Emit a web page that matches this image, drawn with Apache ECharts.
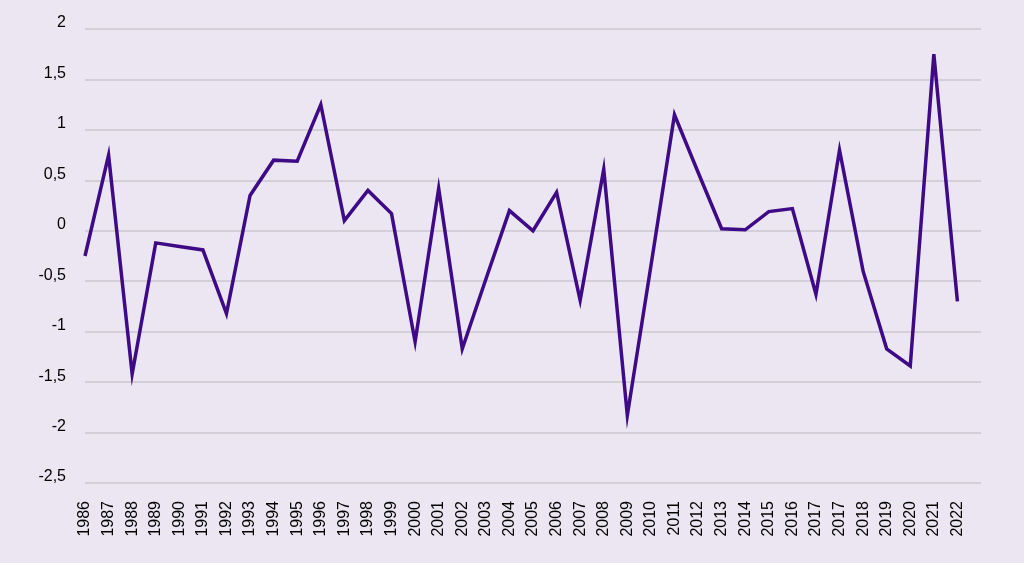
<!DOCTYPE html>
<html>
<head>
<meta charset="utf-8">
<script src="https://cdn.jsdelivr.net/npm/echarts@6/dist/echarts.min.js"></script>
<style>
  html, body { margin: 0; padding: 0; background: #ebe6f2; }
  #chart { width: 1024px; height: 563px; }
</style>
</head>
<body>
<div id="chart"></div>
<script>
// year labels as printed on the chart (2017 appears twice in the source)
var years = ['1986', '1987', '1988', '1989', '1990', '1991', '1992', '1993', '1994', '1995',
  '1996', '1997', '1998', '1999', '2000', '2001', '2002', '2003', '2004', '2005',
  '2006', '2007', '2008', '2009', '2010', '2011', '2012', '2013', '2014', '2015',
  '2016', '2017', '2017', '2018', '2019', '2020', '2021', '2022'];

var values = [-0.25, 0.75, -1.42, -0.12, -0.155, -0.19, -0.82, 0.35, 0.70, 0.69,
  1.25, 0.10, 0.40, 0.17, -1.10, 0.42, -1.17, -0.48, 0.20, 0.00,
  0.38, -0.69, 0.61, -1.83, -0.35, 1.15, 0.58, 0.02, 0.01, 0.19,
  0.22, -0.63, 0.80, -0.40, -1.17, -1.34, 1.75, -0.70];

var yMin = -2.5, yMax = 2, yStep = 0.5;

// one empty slot at the end so the grid runs past 2022
var cats = years.concat(['']);

var chart = echarts.init(document.getElementById('chart'));
chart.setOption({
  backgroundColor: '#ebe6f2',
  animation: false,
  grid: { left: 85, right: 43, top: 29, bottom: 80 },
  xAxis: {
    type: 'category',
    boundaryGap: false,
    data: cats,
    axisLine: { show: false },
    axisTick: { show: false },
    axisLabel: {
      rotate: 90,
      interval: 0,
      margin: 18,
      color: '#000',
      fontSize: 16,
      fontFamily: 'Liberation Sans, Arial, sans-serif'
    },
    splitLine: { show: false }
  },
  yAxis: {
    type: 'value',
    min: yMin,
    max: yMax,
    interval: yStep,
    axisLine: { show: false },
    axisTick: { show: false },
    axisLabel: {
      margin: 19,
      color: '#000',
      fontSize: 16,
      fontFamily: 'Liberation Sans, Arial, sans-serif',
      verticalAlign: 'bottom',
      lineHeight: 12,
      formatter: function (v) { return String(v).replace('.', ','); }
    },
    splitLine: { lineStyle: { color: '#d3cfd8', width: 2 } }
  },
  series: [{
    type: 'line',
    data: values,
    showSymbol: false,
    lineStyle: { color: '#3e0a86', width: 3.5, join: 'miter' },
    itemStyle: { color: '#3e0a86' }
  }]
});
</script>
</body>
</html>
